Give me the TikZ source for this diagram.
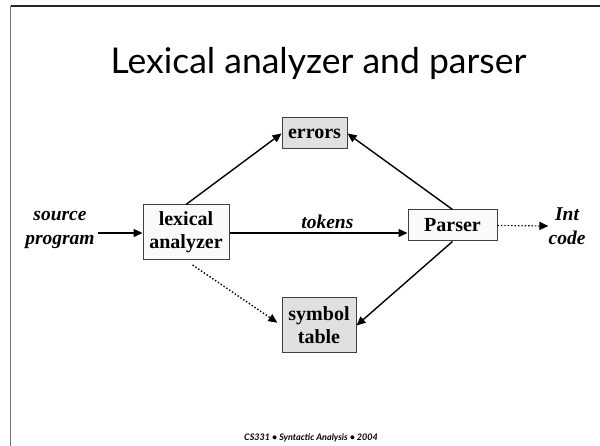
\documentclass[tikz,border=0pt]{standalone}
\usepackage{fontspec}
\setmainfont{Liberation Serif}
\newfontfamily\slidefont{Lato}
\usetikzlibrary{arrows.meta}
\tikzset{
  box/.style={draw=black!75, line width=1pt, fill=#1, inner sep=0pt,
    font=\fontsize{20}{23}\selectfont\bfseries, align=center},
  box/.default=white,
  lbl/.style={font=\fontsize{19.5}{24}\selectfont\bfseries\itshape, align=center, inner sep=0pt},
  flow/.style={line width=1.4pt, -{Triangle[length=9pt,width=8pt]}},
  dotflow/.style={flow, dotted},
}
\begin{document}
\begin{tikzpicture}[x=1pt,y=-1pt,auto]
  \useasboundingbox (0,0) rectangle (600,446);
  \draw[black!55, line width=1.2pt] (10.5,446) -- (10.5,6);
  \draw[black!85, line width=1.2pt] (10.5,6) -- (600,6);

  \node[anchor=base] (title) at (318.5,74) {\slidefont\fontsize{35.5}{40}\selectfont Lexical analyzer and parser};

  \node[box=black!2, minimum width=86pt, minimum height=55pt] (lex) at (186,232.5) {lexical\\analyzer};
  \node[box=black!2, minimum width=89pt, minimum height=31pt] (parser) at (452.5,225.5) {Parser};
  \node[box=black!12, minimum width=65pt, minimum height=31pt] (err) at (314.5,133.5) {errors};
  \node[box=black!12, minimum width=74pt, minimum height=55pt] (sym) at (319,325.5) {symbol\\table};

  \node[lbl] (src) at (60,229.5) {source\\program};
  \node[lbl] (int) at (567,226) {Int\\code};
  \coordinate (srcend) at (98,233);

  \draw[flow] (srcend) to (srcend -| lex.west);
  \draw[flow] (lex.east |- srcend) to node[lbl, above=4pt, pos=0.55]{tokens} (srcend -| parser.west);
  \draw[flow] (lex.north) to (err.west);
  \draw[flow] (parser.north) to (err.east);
  \draw[flow] (parser.south) to (sym.east);
  \draw[dotflow, shorten <=8pt, shorten >=5pt] (lex.south) to (sym.west);
  \draw[dotflow, line width=1.2pt] (parser.east) to (int.west);

  \node[anchor=base] (foot) at (311,440) {\slidefont\fontsize{9}{11}\selectfont\bfseries\itshape CS331 • Syntactic Analysis • 2004};
\end{tikzpicture}
\end{document}
